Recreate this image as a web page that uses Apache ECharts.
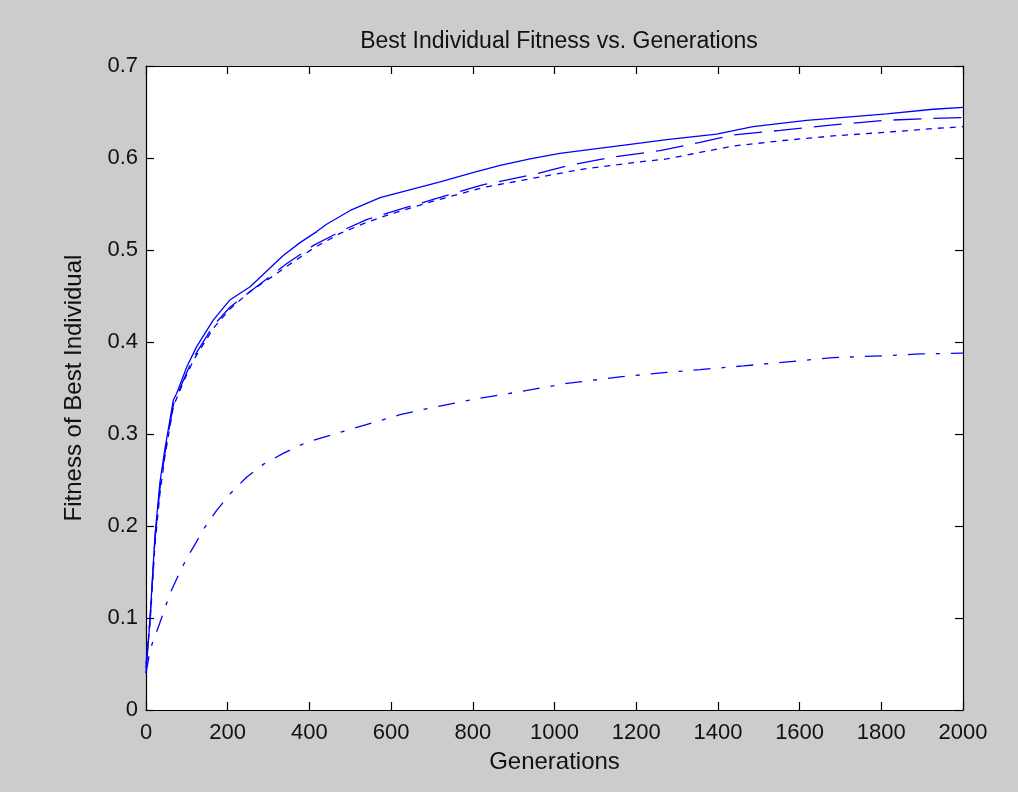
<!DOCTYPE html>
<html>
<head>
<meta charset="utf-8">
<script src="https://cdn.jsdelivr.net/npm/echarts@6/dist/echarts.min.js"></script>
<style>
html,body{margin:0;padding:0;background:#cccccc;}
#chart{width:1018px;height:792px;}
</style>
</head>
<body>
<div id="chart"></div>
<script>
var titleText = 'Best Individual Fitness vs. Generations';
var xName = 'Generations';
var yName = 'Fitness of Best Individual';

var solidGens = [0, 5, 10, 22, 34, 46, 67, 75, 100, 124, 165, 206, 255, 312, 336, 377, 418, 442, 500, 573, 650, 720, 800, 867, 940, 1013, 1152, 1275, 1397, 1486, 1617, 1731, 1813, 1927, 2000];
var solidFit  = [0.04, 0.07, 0.10, 0.19, 0.247, 0.283, 0.337, 0.344, 0.373, 0.395, 0.424, 0.446, 0.460, 0.484, 0.494, 0.508, 0.520, 0.528, 0.543, 0.557, 0.566, 0.574, 0.584, 0.592, 0.599, 0.605, 0.613, 0.620, 0.626, 0.634, 0.641, 0.645, 0.648, 0.653, 0.655];

var dashedGens = [0, 5, 10, 22, 34, 46, 67, 91, 116, 165, 206, 255, 312, 344, 410, 475, 540, 605, 703, 826, 948, 1000, 1046, 1144, 1258, 1356, 1437, 1552, 1682, 1813, 1927, 2000];
var dashedFit  = [0.045, 0.075, 0.10, 0.185, 0.24, 0.278, 0.332, 0.358, 0.383, 0.418, 0.438, 0.455, 0.474, 0.485, 0.505, 0.520, 0.533, 0.542, 0.555, 0.571, 0.582, 0.588, 0.593, 0.601, 0.608, 0.617, 0.625, 0.630, 0.636, 0.641, 0.643, 0.644];

var dottedGens = [0, 5, 10, 22, 34, 46, 67, 91, 116, 165, 206, 255, 312, 344, 410, 475, 540, 605, 703, 826, 948, 1070, 1193, 1275, 1356, 1437, 1560, 1682, 1813, 1927, 2000];
var dottedFit  = [0.05, 0.072, 0.095, 0.18, 0.235, 0.275, 0.33, 0.356, 0.38, 0.415, 0.436, 0.455, 0.472, 0.482, 0.502, 0.518, 0.530, 0.540, 0.553, 0.568, 0.578, 0.588, 0.595, 0.599, 0.606, 0.613, 0.619, 0.624, 0.628, 0.632, 0.634];

var dashDotGens = [0, 10, 18, 30, 42, 59, 83, 100, 120, 140, 173, 206, 246, 287, 336, 393, 507, 622, 703, 818, 916, 1030, 1160, 1275, 1356, 1462, 1584, 1682, 1805, 1895, 2000];
var dashDotFit  = [0.04, 0.065, 0.076, 0.09, 0.105, 0.127, 0.150, 0.165, 0.180, 0.196, 0.217, 0.235, 0.253, 0.267, 0.279, 0.291, 0.306, 0.321, 0.329, 0.339, 0.346, 0.355, 0.362, 0.367, 0.370, 0.374, 0.379, 0.383, 0.385, 0.387, 0.388];

var xTicks = [0, 200, 400, 600, 800, 1000, 1200, 1400, 1600, 1800, 2000];
var yTicks = [0, 0.1, 0.2, 0.3, 0.4, 0.5, 0.6, 0.7];

function zip(a, b) { return a.map(function (v, i) { return [v, b[i]]; }); }

var FONT = '"Liberation Sans", Arial, sans-serif';
var chart = echarts.init(document.getElementById('chart'), null, {renderer: 'canvas'});

function lineSeries(name, gens, fit, dash) {
  return {
    name: name, type: 'line', xAxisIndex: 0, yAxisIndex: 0,
    data: zip(gens, fit), symbol: 'none', smooth: false, silent: true,
    lineStyle: {color: '#0000ff', width: 1.3, type: dash},
    animation: false
  };
}

var axisCommon = {
  axisLine: {show: true, onZero: false, lineStyle: {color: '#000', width: 1.2}},
  axisTick: {show: true, inside: true, length: 8, lineStyle: {color: '#000', width: 1.2}},
  splitLine: {show: false}
};

chart.setOption({
  backgroundColor: '#cccccc',
  animation: false,
  title: {
    text: titleText, left: 554, textAlign: 'center', top: 25,
    textStyle: {fontFamily: FONT, fontSize: 23, fontWeight: 'normal', color: '#111'}
  },
  grid: {left: 146, right: 55, top: 66, bottom: 82, show: true, backgroundColor: '#ffffff', borderColor: '#000', borderWidth: 0},
  xAxis: [
    Object.assign({
      type: 'value', min: xTicks[0], max: xTicks[xTicks.length - 1], interval: xTicks[1] - xTicks[0],
      position: 'bottom', name: xName, nameLocation: 'middle', nameGap: 40,
      nameTextStyle: {fontFamily: FONT, fontSize: 24, color: '#111'},
      axisLabel: {fontFamily: FONT, fontSize: 22, color: '#111', margin: 12,
        formatter: function (v) { return String(v); }}
    }, axisCommon),
    Object.assign({
      type: 'value', min: xTicks[0], max: xTicks[xTicks.length - 1], interval: xTicks[1] - xTicks[0],
      position: 'top', axisLabel: {show: false}
    }, axisCommon)
  ],
  yAxis: [
    Object.assign({
      type: 'value', min: yTicks[0], max: yTicks[yTicks.length - 1], interval: 0.1,
      position: 'left', name: yName, nameLocation: 'middle', nameGap: 60,
      nameTextStyle: {fontFamily: FONT, fontSize: 24, color: '#111'},
      axisLabel: {fontFamily: FONT, fontSize: 22, color: '#111', margin: 8,
        formatter: function (v) { return String(Math.round(v * 10) / 10); }}
    }, axisCommon),
    Object.assign({
      type: 'value', min: yTicks[0], max: yTicks[yTicks.length - 1], interval: 0.1,
      position: 'right', axisLabel: {show: false}
    }, axisCommon)
  ],
  series: [
    lineSeries('solid', solidGens, solidFit, 'solid'),
    lineSeries('dashed', dashedGens, dashedFit, [28, 12]),
    lineSeries('dotted', dottedGens, dottedFit, [6, 6]),
    lineSeries('dashdot', dashDotGens, dashDotFit, [17, 11, 4, 11])
  ]
});
</script>
</body>
</html>
